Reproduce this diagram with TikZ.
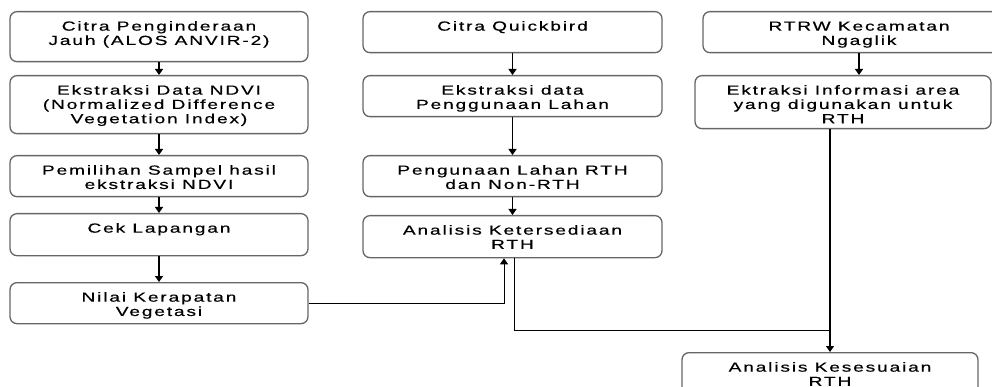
\documentclass[tikz,border=0pt]{standalone}
\usepackage{fontspec}
\setmainfont{Liberation Sans}[FakeStretch=1.45,LetterSpace=14,FakeBold=0.5]
\usetikzlibrary{arrows.meta,calc}
% text of a box, held at its top
\newcommand{\cell}[2]{\parbox[c][#1pt][t]{284pt}{\centering\rule{0pt}{19pt}#2}}
\tikzset{
    proc/.style={draw=black!60, line width=1.3pt, rounded corners=7pt, inner sep=0pt, anchor=north},
    arr/.style={line width=1.3pt, -{Triangle[width=8pt,length=6pt]}},
    link/.style={line width=1pt}
}
\begin{document}
\begin{tikzpicture}[x=1pt, y=-1pt, font=\fontsize{13.2}{14.3}\selectfont]
    \useasboundingbox (0,0) rectangle (992,387);
    \clip (0,0) rectangle (992,387);
    % left column
    \node[proc, minimum width=298pt] (citra) at (159,11) {\cell{50}{Citra Penginderaan\\Jauh (ALOS ANVIR-2)}};
    \node[proc, minimum width=298pt] (ndvi) at (159,75) {\cell{58}{Ekstraksi Data NDVI\\(Normalized Difference\\Vegetation Index)}};
    \node[proc, minimum width=298pt] (sampel) at (159,155) {\cell{41}{Pemilihan Sampel hasil\\ekstraksi NDVI}};
    \node[proc, minimum width=298pt] (cek) at (159,213) {\cell{42}{Cek Lapangan}};
    \node[proc, minimum width=298pt] (nilai) at (159,282) {\cell{41}{Nilai Kerapatan\\Vegetasi}};
    % middle column
    \node[proc, minimum width=299pt] (quick) at (512.5,11) {\cell{41}{Citra Quickbird}};
    \node[proc, minimum width=299pt] (guna) at (512.5,75) {\cell{41}{Ekstraksi data\\Penggunaan Lahan}};
    \node[proc, minimum width=299pt] (rth) at (512.5,155) {\cell{41}{Pengunaan Lahan RTH\\dan Non-RTH}};
    \node[proc, minimum width=299pt] (sedia) at (512.5,215) {\cell{42}{Analisis Ketersediaan\\RTH}};
    % right column
    \node[proc, minimum width=312pt] (rtrw) at (859,11) {\cell{41}{RTRW Kecamatan\\Ngaglik}};
    \node[proc, minimum width=296pt] (info) at (843,75) {\cell{53}{Ektraksi Informasi area\\yang digunakan untuk\\RTH}};
    \node[proc, minimum width=296pt] (sesuai) at (830,352) {\cell{41}{Analisis Kesesuaian\\RTH}};

    \foreach \a/\b in {citra/ndvi, ndvi/sampel, sampel/cek, cek/nilai, quick/guna, guna/rth, rth/sedia}
        \draw[arr] (\a) -- (\b);
    \draw[arr] (rtrw.south) -- (rtrw.south |- info.north);
    \draw[arr] (info.south -| sesuai.north) -- (sesuai.north);
    \coordinate (join) at ($(sesuai.north)+(0,-22)$);
    \draw[link] ([xshift=1.5pt]sedia.south) |- (join);
    \draw[link, arr, line width=1pt] (nilai.east) -| ([xshift=-8.5pt]sedia.south);
\end{tikzpicture}
\end{document}
